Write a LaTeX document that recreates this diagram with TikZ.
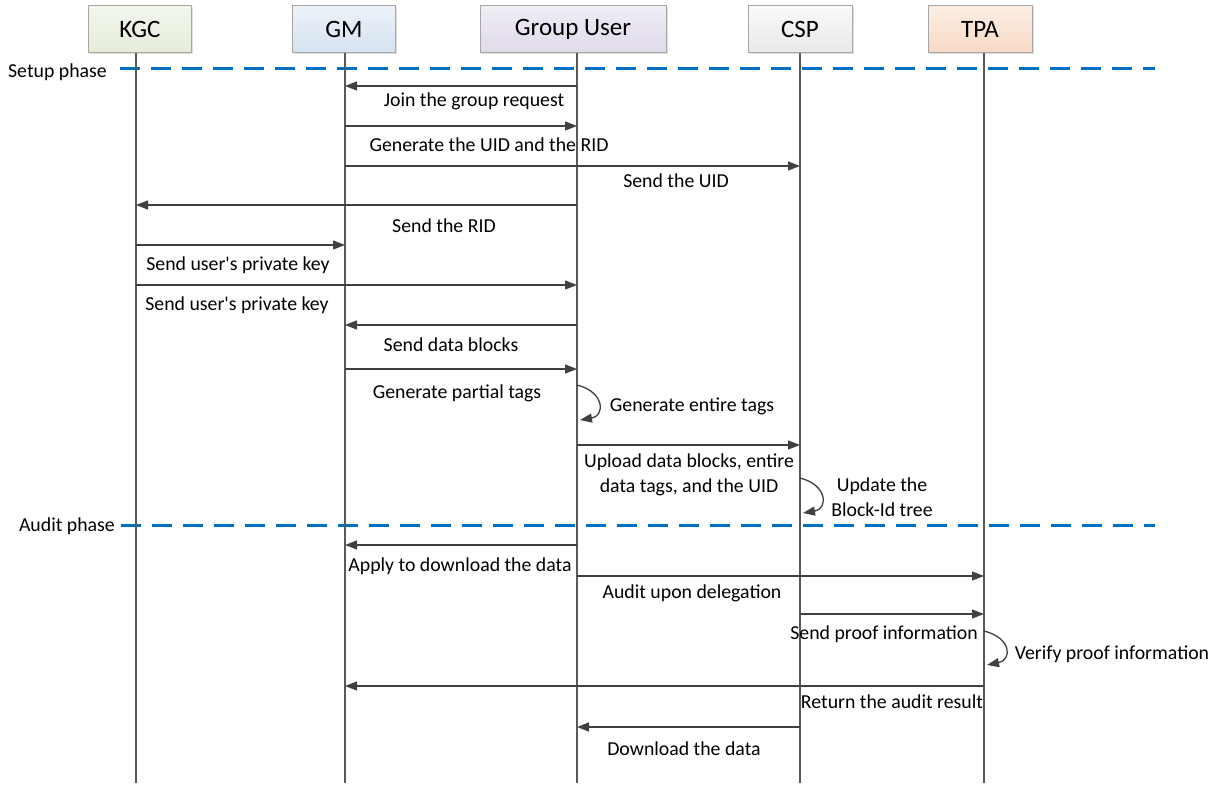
\documentclass[tikz,border=0pt]{standalone}
\usepackage{fontspec}
\setmainfont{Carlito}
\usetikzlibrary{arrows.meta,shadows}
\definecolor{lineg}{HTML}{595959}
\definecolor{arrg}{HTML}{404040}
\definecolor{phaseblue}{HTML}{0070C0}
\begin{document}
\begin{tikzpicture}[x=1pt,y=-1pt,
  hdr/.style={draw=gray!70, minimum height=47pt, inner sep=0pt,
    font=\fontsize{25}{28}\selectfont, drop shadow={shadow xshift=1.5pt,shadow yshift=-1.5pt,opacity=0.25}},
  life/.style={draw=lineg, line width=1.3pt},
  msg/.style={draw=arrg, line width=1.3pt, -{Triangle[length=12pt,width=9pt]}},
  lbl/.style={font=\fontsize{19.8}{24.5}\selectfont, align=center, inner sep=0pt},
  phase/.style={draw=phaseblue, line width=3pt, dash pattern=on 20pt off 11pt}]
\useasboundingbox (0,0) rectangle (1220,786);
% headers
\node[hdr, minimum width=103pt, top color={rgb,255:red,242;green,246;blue,236}, bottom color={rgb,255:red,230;green,236;blue,218}] (kgc) at (140,29) {KGC};
\node[hdr, minimum width=103pt, top color={rgb,255:red,236;green,242;blue,249}, bottom color={rgb,255:red,213;green,226;blue,240}] (gm) at (344,29) {GM};
\node[hdr, minimum width=186pt, top color={rgb,255:red,240;green,237;blue,245}, bottom color={rgb,255:red,224;green,218;blue,234}] (gu) at (573,29) {Group User};
\node[hdr, minimum width=104pt, top color={rgb,255:red,250;green,250;blue,250}, bottom color={rgb,255:red,232;green,232;blue,232}] (csp) at (800,29) {CSP};
\node[hdr, minimum width=104pt, top color={rgb,255:red,252;green,238;blue,228}, bottom color={rgb,255:red,248;green,218;blue,198}] (tpa) at (980,29) {TPA};
% lifeline anchors
\coordinate (Lk) at (136,53); \coordinate (Lkb) at (136,783);
\coordinate (Lg) at (345,53); \coordinate (Lgb) at (345,783);
\coordinate (Lu) at (577,53); \coordinate (Lub) at (577,783);
\coordinate (Lc) at (800,53); \coordinate (Lcb) at (800,783);
\coordinate (Lt) at (984,53); \coordinate (Ltb) at (984,783);
% phases
\node[lbl, anchor=east] (setup) at (107,72) {Setup phase};
\node[lbl, anchor=east] (audit) at (115,526) {Audit phase};
\coordinate (setupS) at (120,69); \coordinate (setupE) at (1155,69);
\coordinate (auditS) at (121,525); \coordinate (auditE) at (1155,525);
\draw[phase] (setupS) -- (setupE);
\draw[phase] (auditS) -- (auditE);
% lifelines
\foreach \a/\b in {Lk/Lkb,Lg/Lgb,Lu/Lub,Lc/Lcb,Lt/Ltb} \draw[life] (\a) -- (\b);
% messages
\draw[msg] (Lu |- 0,86) -- (Lg |- 0,86);
\node[lbl] (m1) at (474,101) {Join the group request};
\draw[msg] (Lg |- 0,126) -- (Lu |- 0,126);
\node[lbl] (m2) at (489,145) {Generate the UID and the RID};
\draw[msg] (Lg |- 0,166) -- (Lc |- 0,166);
\node[lbl] (m3) at (676,181) {Send the UID};
\draw[msg] (Lu |- 0,205) -- (Lk |- 0,205);
\node[lbl] (m4) at (444,226) {Send the RID};
\draw[msg] (Lk |- 0,245) -- (Lg |- 0,245);
\node[lbl] (m5) at (238,265) {Send user\textquotesingle s private key};
\draw[msg] (Lk |- 0,285) -- (Lu |- 0,285);
\node[lbl] (m6) at (237,305) {Send user\textquotesingle s private key};
\draw[msg] (Lu |- 0,325) -- (Lg |- 0,325);
\node[lbl] (m7) at (451,345) {Send data blocks};
\draw[msg] (Lg |- 0,369) -- (Lu |- 0,369);
\node[lbl] (m8) at (457,393) {Generate partial tags};
\draw[msg] (Lu |- 0,385) .. controls (605,392) and (605,416) .. (580,420);
\node[lbl] (m9) at (692,406) {Generate entire tags};
\draw[msg] (Lu |- 0,445) -- (Lc |- 0,445);
\node[lbl] (m10) at (689,475) {Upload data blocks, entire\\data tags, and the UID};
\draw[msg] (Lc |- 0,478) .. controls (828,485) and (828,509) .. (803,513);
\node[lbl] (m11) at (882,497) {Update the\\Block-Id tree};
\draw[msg] (Lu |- 0,545) -- (Lg |- 0,545);
\node[lbl] (m12) at (460,566) {Apply to download the data};
\draw[msg] (Lu |- 0,576) -- (Lt |- 0,576);
\node[lbl] (m13) at (692,593) {Audit upon delegation};
\draw[msg] (Lc |- 0,614) -- (Lt |- 0,614);
\node[lbl] (m14) at (884,634) {Send proof information};
\draw[msg] (Lt |- 0,631) .. controls (1012,638) and (1012,660) .. (987,665);
\node[lbl] (m15) at (1112,654) {Verify proof information};
\draw[msg] (Lt |- 0,686) -- (Lg |- 0,686);
\node[lbl] (m16) at (892,702) {Return the audit result};
\draw[msg] (Lc |- 0,727) -- (Lu |- 0,727);
\node[lbl] (m17) at (684,749) {Download the data};
\end{tikzpicture}
\end{document}
